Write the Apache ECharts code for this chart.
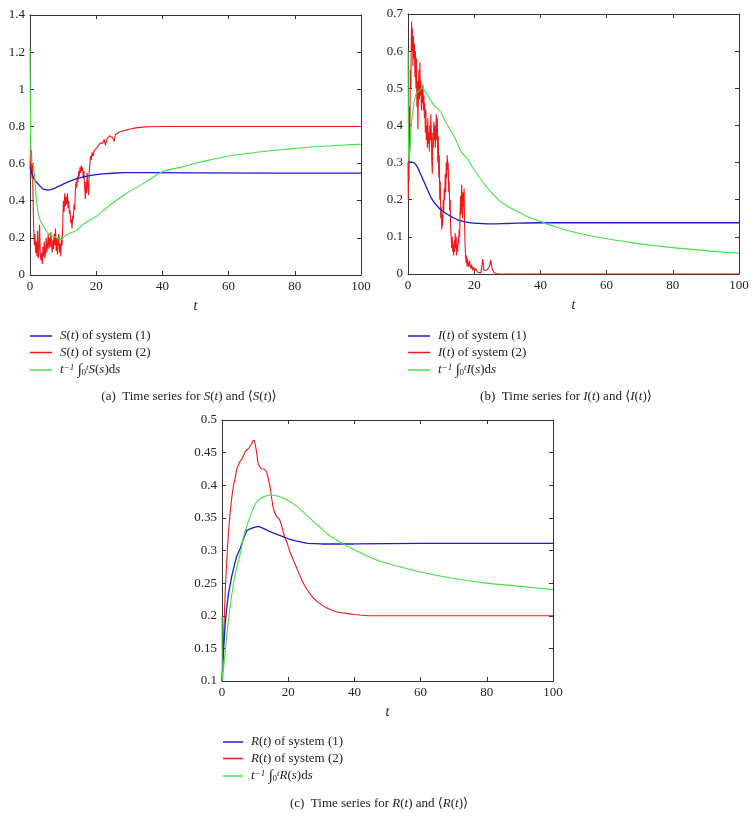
<!DOCTYPE html>
<html><head><meta charset="utf-8">
<script src="https://cdn.jsdelivr.net/npm/echarts/dist/echarts.min.js"></script>
<style>html,body{margin:0;padding:0;background:#fff}#c{width:756px;height:830px}</style>
</head><body><div id="c"></div>
<script>
// ---------- Panel (a): S(t) ----------
const tA1 = [0,0.3,0.7,1.2,1.7,2.2,3,4,4.5,5.5,6.5,7.5,9,10.5,12,13.5,15,16.5,18,20,22,25,28,35,50,75,100];
const sA1 = [0.58,0.56,0.54,0.52,0.505,0.497,0.48,0.462,0.456,0.457,0.461,0.468,0.48,0.493,0.505,0.515,0.523,0.53,0.535,0.54,0.545,0.548,0.551,0.551,0.55,0.549,0.549];
const tA2 = [0,0.15,0.3,0.45,0.6,0.75,0.9,1.05,1.2,1.35,1.5,1.7,1.9,2.1,2.3,2.5,2.7,2.9,3.1,3.3,3.5,3.7,3.9,4.1,4.3,4.5,4.7,4.9,5.1,5.3,5.5,5.7,5.9,6.1,6.3,6.5,6.7,6.9,7.1,7.3,7.5,7.7,7.9,8.1,8.3,8.5,8.7,8.9,9.1,9.3,9.5,9.7,9.9,10.1,10.3,10.5,10.7,10.9,11.1,11.3,11.5,11.7,11.9,12.1,12.3,12.5,12.7,12.9,13.1,13.3,13.5,13.7,13.9,14.1,14.3,14.5,14.7,14.9,15.1,15.3,15.5,15.7,15.9,16.1,16.3,16.5,16.7,16.9,17.1,17.3,17.5,17.7,17.9,18.1,18.3,18.5,18.8,19.1,19.4,19.7,20,20.4,20.8,21.2,21.6,22,22.4,22.8,23.2,23.6,24,24.5,25,25.4,25.8,26.3,27,28,29,30,32,34,36,40,50,70,100];
const sA2 = [0.58,0.66,0.52,0.67,0.55,0.6,0.45,0.3,0.2,0.16,0.22,0.12,0.18,0.1,0.24,0.09,0.14,0.27,0.11,0.08,0.12,0.06,0.15,0.1,0.18,0.09,0.13,0.2,0.12,0.16,0.22,0.14,0.2,0.15,0.23,0.17,0.12,0.19,0.14,0.22,0.16,0.25,0.13,0.2,0.11,0.18,0.22,0.12,0.17,0.1,0.2,0.16,0.28,0.4,0.34,0.44,0.37,0.42,0.38,0.44,0.36,0.4,0.33,0.35,0.28,0.3,0.25,0.32,0.3,0.38,0.35,0.45,0.5,0.47,0.53,0.5,0.56,0.53,0.58,0.55,0.59,0.56,0.58,0.52,0.56,0.48,0.41,0.5,0.44,0.55,0.47,0.43,0.56,0.6,0.64,0.62,0.66,0.64,0.67,0.66,0.68,0.69,0.7,0.71,0.72,0.71,0.73,0.7,0.73,0.74,0.75,0.75,0.74,0.72,0.755,0.76,0.77,0.775,0.78,0.785,0.792,0.796,0.798,0.8,0.8,0.8,0.8];
const tA3 = [0,0.1,0.2,0.35,0.5,0.8,1.1,1.4,1.7,2,2.5,3,3.5,4,4.5,5,5.5,6,6.5,7,7.5,8,8.5,9,9.5,10,10.5,11,12,13,13.5,14,15,16,17,18,19,20,22,25,28,30,33,36,40,45,50,55,60,65,70,75,80,85,90,95,100];
const sA3 = [1.22,0.95,0.72,0.63,0.6,0.6,0.58,0.53,0.46,0.39,0.33,0.3,0.28,0.265,0.25,0.235,0.225,0.215,0.21,0.21,0.205,0.2,0.198,0.195,0.19,0.2,0.21,0.215,0.225,0.232,0.235,0.24,0.255,0.27,0.285,0.295,0.305,0.315,0.345,0.388,0.425,0.449,0.48,0.513,0.556,0.578,0.602,0.622,0.641,0.653,0.664,0.673,0.682,0.689,0.695,0.7,0.704];

// ---------- Panel (b): I(t) ----------
const tB1 = [0,1,2,3,4,5,6,7,8,9,10,11,12,13,14,15,16,17,18,20,22,25,30,40,60,100];
const sB1 = [0.3,0.302,0.298,0.285,0.265,0.245,0.225,0.205,0.192,0.181,0.172,0.166,0.16,0.155,0.15,0.146,0.143,0.141,0.139,0.137,0.136,0.135,0.136,0.138,0.138,0.138];
const tB2 = [0,0.1,0.2,0.3,0.4,0.55,0.7,0.85,1,1.1,1.2,1.35,1.5,1.65,1.8,1.95,2.1,2.25,2.4,2.55,2.7,2.85,3,3.15,3.3,3.45,3.6,3.75,3.9,4.05,4.2,4.35,4.5,4.65,4.8,4.95,5.1,5.25,5.4,5.55,5.7,5.85,6,6.15,6.3,6.45,6.6,6.75,6.9,7.05,7.2,7.35,7.5,7.65,7.8,7.95,8.1,8.25,8.4,8.55,8.7,8.85,9,9.15,9.3,9.45,9.6,9.75,9.9,10.05,10.2,10.35,10.5,10.65,10.8,10.95,11.1,11.25,11.4,11.55,11.7,11.85,12,12.15,12.3,12.45,12.6,12.75,12.9,13.05,13.2,13.35,13.5,13.65,13.8,13.95,14.1,14.25,14.4,14.55,14.7,14.85,15,15.15,15.3,15.45,15.6,15.75,15.9,16.05,16.2,16.35,16.5,16.65,16.8,16.95,17.1,17.25,17.4,17.55,17.7,17.85,18,18.3,18.6,18.9,19.2,19.5,19.8,20.1,20.5,21,21.5,22,22.3,22.6,22.9,23.3,23.8,24.2,24.6,25,25.3,25.6,26,26.5,27,30,50,100];
const sB2 = [0.3,0.2,0.42,0.25,0.45,0.33,0.55,0.5,0.63,0.68,0.6,0.66,0.56,0.64,0.58,0.62,0.53,0.6,0.5,0.58,0.45,0.52,0.39,0.5,0.55,0.47,0.57,0.48,0.52,0.44,0.5,0.46,0.51,0.44,0.48,0.42,0.46,0.38,0.44,0.36,0.4,0.34,0.42,0.35,0.38,0.33,0.4,0.36,0.43,0.38,0.3,0.27,0.38,0.34,0.41,0.36,0.4,0.34,0.38,0.43,0.36,0.42,0.3,0.37,0.26,0.32,0.2,0.25,0.15,0.18,0.12,0.16,0.13,0.2,0.17,0.23,0.2,0.27,0.22,0.3,0.26,0.32,0.28,0.3,0.22,0.25,0.17,0.2,0.12,0.1,0.07,0.1,0.06,0.08,0.05,0.09,0.06,0.11,0.07,0.1,0.05,0.08,0.06,0.1,0.08,0.12,0.1,0.17,0.21,0.16,0.24,0.2,0.15,0.22,0.18,0.23,0.13,0.08,0.05,0.03,0.05,0.02,0.04,0.02,0.035,0.015,0.025,0.01,0.02,0.008,0.015,0.005,0.01,0.003,0.02,0.04,0.01,0.005,0.01,0.005,0.02,0.038,0.02,0.01,0.004,0.002,0,0,0,0];
const tB3 = [0,0.15,0.3,0.6,1,1.5,2,2.5,3,3.5,4,4.5,5,5.5,6,7,8,9,10,11,12,13,14,15,16,17,18,19,20,22,24,26,28,30,33,36,39,42,45,50,55,60,65,70,75,80,85,90,95,100];
const sB3 = [0.6,0.35,0.3,0.34,0.4,0.44,0.47,0.485,0.49,0.495,0.5,0.5,0.495,0.487,0.48,0.465,0.452,0.445,0.435,0.415,0.4,0.385,0.37,0.35,0.33,0.32,0.31,0.295,0.28,0.255,0.232,0.212,0.195,0.183,0.168,0.155,0.145,0.135,0.126,0.113,0.103,0.095,0.088,0.081,0.076,0.071,0.067,0.063,0.059,0.056];

// ---------- Panel (c): R(t) ----------
const tC1 = [0,0.5,1,1.5,2,3,4,4.5,5.5,6.5,7.5,8.5,9.5,11,12.5,14,16,18,20,22,24,26,30,40,60,100];
const sC1 = [0.1,0.15,0.19,0.215,0.235,0.262,0.283,0.292,0.303,0.318,0.331,0.333,0.335,0.337,0.334,0.33,0.326,0.322,0.318,0.315,0.313,0.311,0.31,0.31,0.311,0.311];
const tC2 = [0,0.5,1,1.5,2,2.5,3,3.5,4,4.5,5,5.5,6,6.5,7,7.5,8,8.5,9,9.5,9.8,10.2,10.6,11,11.5,12,12.5,13,13.5,14,14.5,15,15.5,16,16.5,17,17.5,18,18.5,19,19.6,20,21,22,23,24,25,26,27,28,30,32,34,37,40,45,60,100];
const sC2 = [0.1,0.17,0.24,0.29,0.33,0.36,0.383,0.4,0.412,0.425,0.432,0.437,0.44,0.446,0.451,0.454,0.456,0.46,0.464,0.469,0.468,0.458,0.445,0.432,0.428,0.425,0.425,0.424,0.42,0.41,0.398,0.38,0.365,0.357,0.352,0.35,0.346,0.338,0.328,0.32,0.313,0.306,0.292,0.28,0.268,0.256,0.246,0.238,0.231,0.225,0.217,0.211,0.207,0.204,0.202,0.2,0.2,0.2];
const tC3 = [0,0.1,0.5,1.5,2.5,3.5,4.5,5.5,6.5,7.5,8.5,9.5,10.5,12,14.5,17,19.5,22.5,25,27.5,30,33,37,40,45,50,60,70,80,90,100];
const sC3 = [0.2,0.1,0.12,0.173,0.215,0.25,0.275,0.295,0.32,0.337,0.352,0.365,0.375,0.381,0.385,0.383,0.378,0.368,0.357,0.345,0.334,0.321,0.309,0.301,0.289,0.28,0.267,0.257,0.25,0.245,0.24];

// ---------- Text ----------
const namesA = ['S(t) of system (1)','S(t) of system (2)','mean S'];
const namesB = ['I(t) of system (1)','I(t) of system (2)','mean I'];
const namesC = ['R(t) of system (1)','R(t) of system (2)','mean R'];
const richLabels = {
  'S(t) of system (1)':'{i|S}({i|t}) of system (1)',
  'S(t) of system (2)':'{i|S}({i|t}) of system (2)',
  'mean S':'{i|t}{sup|−1} {int|∫}{sub|0}{sup|t}{i|S}({i|s})d{i|s}',
  'I(t) of system (1)':'{i|I}({i|t}) of system (1)',
  'I(t) of system (2)':'{i|I}({i|t}) of system (2)',
  'mean I':'{i|t}{sup|−1} {int|∫}{sub|0}{sup|t}{i|I}({i|s})d{i|s}',
  'R(t) of system (1)':'{i|R}({i|t}) of system (1)',
  'R(t) of system (2)':'{i|R}({i|t}) of system (2)',
  'mean R':'{i|t}{sup|−1} {int|∫}{sub|0}{sup|t}{i|R}({i|s})d{i|s}'
};
const captions = [
  '(a)  Time series for {i|S}({i|t}) and ⟨{i|S}({i|t})⟩',
  '(b)  Time series for {i|I}({i|t}) and ⟨{i|I}({i|t})⟩',
  '(c)  Time series for {i|R}({i|t}) and ⟨{i|R}({i|t})⟩'
];
const xTicks = {min:0,max:100,interval:20};
const yRanges = [{min:0,max:1.4,interval:0.2},{min:0,max:0.7,interval:0.1},{min:0.1,max:0.5,interval:0.05}];

const COLORS = ['#1c1cc8','#f01818','#44e044'];
const FONT = '"Liberation Serif","DejaVu Serif",serif';
const rich = {
  i:{fontStyle:'italic',fontFamily:FONT,fontSize:13,lineHeight:14,color:'#222'},
  sup:{fontStyle:'italic',fontFamily:FONT,fontSize:9,lineHeight:14,verticalAlign:'top',padding:[0,0,6,0],color:'#222'},
  sub:{fontFamily:FONT,fontSize:9,lineHeight:14,verticalAlign:'bottom',padding:[6,0,0,0],color:'#222'},
  int:{fontFamily:FONT,fontSize:15,lineHeight:14,color:'#222'}
};

const grids = [
  {left:30,top:15,width:331,height:260},
  {left:408,top:14,width:331,height:260},
  {left:222,top:420,width:331,height:261}
];
const axisLine = {show:true,onZero:false,lineStyle:{color:'#333',width:1}};
const xAxes=[], yAxes=[];
grids.forEach((g,k)=>{
  xAxes.push({type:'value',gridIndex:k,...xTicks,position:'bottom',axisLine,
    axisTick:{show:true,inside:true,length:4,lineStyle:{color:'#333'}},
    axisLabel:{show:true,margin:5,fontFamily:FONT,fontSize:13,color:'#222',showMinLabel:true,showMaxLabel:true},
    splitLine:{show:false},name:'t',nameLocation:'middle',nameGap:24,
    nameTextStyle:{fontFamily:FONT,fontStyle:'italic',fontSize:14,color:'#222'}});
  xAxes.push({type:'value',gridIndex:k,...xTicks,position:'top',axisLine,
    axisTick:{show:true,inside:true,length:4,lineStyle:{color:'#333'}},
    axisLabel:{show:false},splitLine:{show:false}});
  yAxes.push({type:'value',gridIndex:k,...yRanges[k],position:'left',axisLine,
    axisTick:{show:true,inside:true,length:4,lineStyle:{color:'#333'}},
    axisLabel:{show:true,margin:5,fontFamily:FONT,fontSize:13,color:'#222',showMinLabel:true,showMaxLabel:true},
    splitLine:{show:false}});
  yAxes.push({type:'value',gridIndex:k,...yRanges[k],position:'right',axisLine,
    axisTick:{show:true,inside:true,length:4,lineStyle:{color:'#333'}},
    axisLabel:{show:false},splitLine:{show:false}});
});

function zip(t,v){return t.map((x,i)=>[x,v[i]]);}
const seriesDefs = [
  [namesA,[[tA1,sA1],[tA2,sA2],[tA3,sA3]],[false,false,true]],
  [namesB,[[tB1,sB1],[tB2,sB2],[tB3,sB3]],[true,false,true]],
  [namesC,[[tC1,sC1],[tC2,sC2],[tC3,sC3]],[false,true,true]]
];
const series=[];
seriesDefs.forEach(([names,sets,sm],k)=>{
  sets.forEach(([t,v],j)=>{
    series.push({type:'line',name:names[j],xAxisIndex:2*k,yAxisIndex:2*k,data:zip(t,v),
      showSymbol:false,symbol:'none',color:COLORS[j],smooth:sm[j]?0.3:false,
      lineStyle:{color:COLORS[j],width:j===0?1.3:1.1},z:j===0?3:(j===1?2:4)});
  });
});

function legend(names,left,top,w){
  return {orient:'vertical',left,top,padding:0,itemGap:2.5,itemWidth:w,itemHeight:1.5,icon:'rect',
    data:names,selectedMode:false,
    formatter:n=>richLabels[n],
    textStyle:{fontFamily:FONT,fontSize:13,lineHeight:14,color:'#222',padding:[0,0,0,3],rich}};
}

const capRich = {i:{fontStyle:'italic',fontFamily:FONT,fontSize:13,color:'#222'}};
const graphic = [
  {type:'text',x:189,y:397,style:{text:captions[0],font:'13px '+FONT,fill:'#222',align:'center',verticalAlign:'middle',rich:capRich}},
  {type:'text',x:566,y:397,style:{text:captions[1],font:'13px '+FONT,fill:'#222',align:'center',verticalAlign:'middle',rich:capRich}},
  {type:'text',x:379,y:804,style:{text:captions[2],font:'13px '+FONT,fill:'#222',align:'center',verticalAlign:'middle',rich:capRich}}
];

const chart = echarts.init(document.getElementById('c'),null,{renderer:'canvas'});
chart.setOption({
  animation:false,backgroundColor:'#fff',
  grid:grids.map(g=>({...g,outerBoundsMode:'none',containLabel:false})),
  xAxis:xAxes,yAxis:yAxes,
  legend:[legend(namesA,30,329,22),legend(namesB,408,329,22),legend(namesC,223,735,20)],
  series,graphic
});
</script></body></html>
